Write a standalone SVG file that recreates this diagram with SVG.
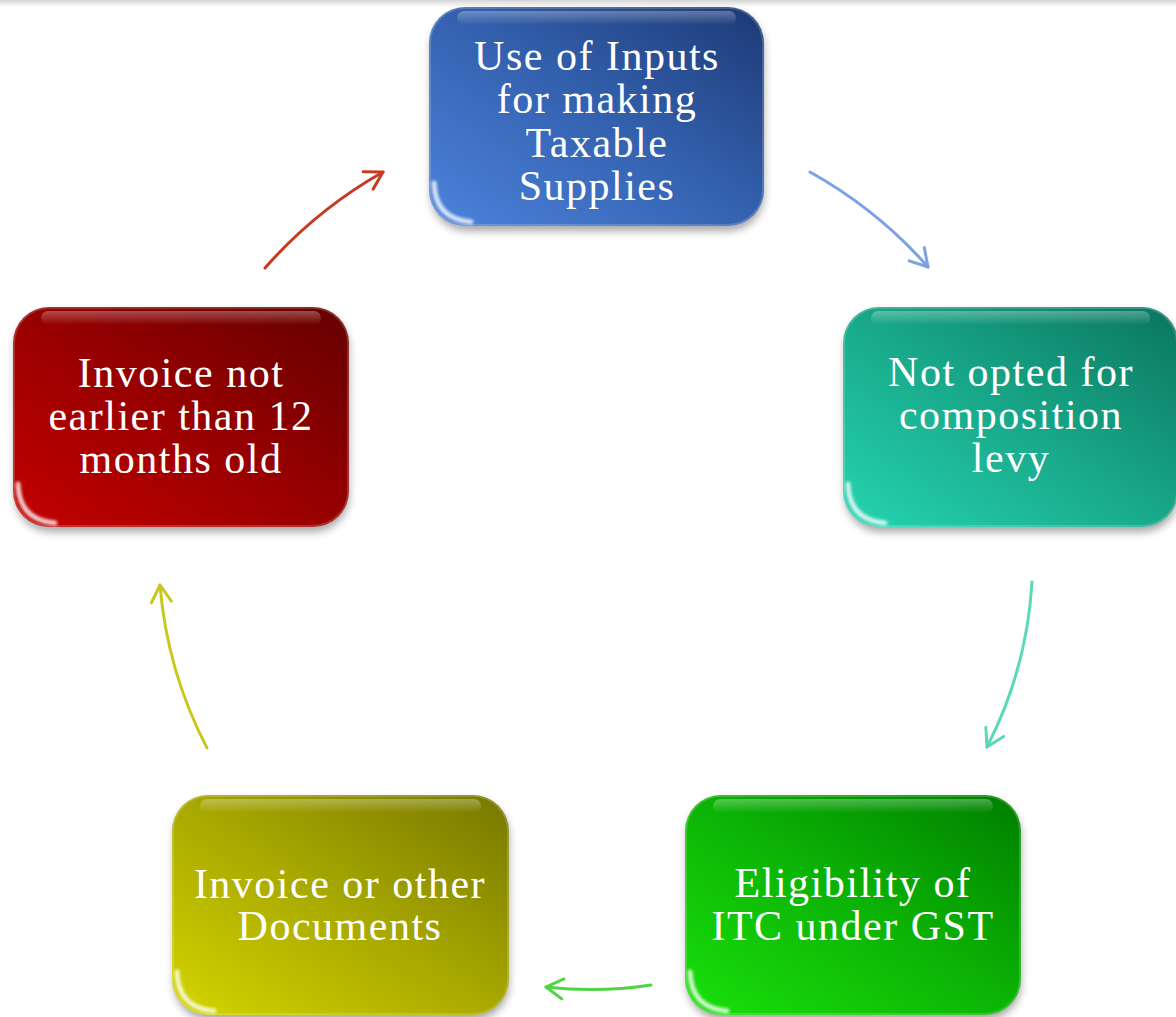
<svg xmlns="http://www.w3.org/2000/svg" width="1176" height="1017" viewBox="0 0 1176 1017">
<defs>
<linearGradient id="topbar" x1="0" y1="0" x2="0" y2="1"><stop offset="0" stop-color="#d4d4d4"/><stop offset="1" stop-color="#ffffff"/></linearGradient>
<linearGradient id="gBlue" x1="0.05" y1="0.95" x2="0.95" y2="0.05"><stop offset="0" stop-color="#4a80d8"/><stop offset="0.5" stop-color="#3462b0"/><stop offset="1" stop-color="#1f3d7a"/></linearGradient>
<linearGradient id="gTeal" x1="0.05" y1="0.95" x2="0.95" y2="0.05"><stop offset="0" stop-color="#24d0ad"/><stop offset="0.5" stop-color="#18a889"/><stop offset="1" stop-color="#0c7a63"/></linearGradient>
<linearGradient id="gRed" x1="0.05" y1="0.95" x2="0.95" y2="0.05"><stop offset="0" stop-color="#c00000"/><stop offset="0.5" stop-color="#980000"/><stop offset="1" stop-color="#6a0000"/></linearGradient>
<linearGradient id="gGreen" x1="0.05" y1="0.95" x2="0.95" y2="0.05"><stop offset="0" stop-color="#18dc0a"/><stop offset="0.5" stop-color="#0cb405"/><stop offset="1" stop-color="#008400"/></linearGradient>
<linearGradient id="gYellow" x1="0.05" y1="0.95" x2="0.95" y2="0.05"><stop offset="0" stop-color="#d0d000"/><stop offset="0.5" stop-color="#a8a800"/><stop offset="1" stop-color="#7c7c00"/></linearGradient>
<linearGradient id="gloss" x1="0" y1="0" x2="0" y2="1"><stop offset="0" stop-color="#ffffff" stop-opacity="0.3"/><stop offset="1" stop-color="#ffffff" stop-opacity="0"/></linearGradient>
<filter id="shadow" x="-10%" y="-10%" width="120%" height="125%"><feGaussianBlur stdDeviation="4"/></filter>
<filter id="soft" x="-50%" y="-50%" width="200%" height="200%"><feGaussianBlur stdDeviation="1.5"/></filter>
<marker id="mRed" viewBox="-20 -12 24 24" markerWidth="24" markerHeight="24" refX="0" refY="0" orient="auto" markerUnits="userSpaceOnUse"><path d="M-17,-10 L0,0 L-17,10" fill="none" stroke="#c63b22" stroke-width="3" stroke-linecap="round" stroke-linejoin="round"/></marker>
<marker id="mBlue" viewBox="-20 -12 24 24" markerWidth="24" markerHeight="24" refX="0" refY="0" orient="auto" markerUnits="userSpaceOnUse"><path d="M-17,-10 L0,0 L-17,10" fill="none" stroke="#7ba2e2" stroke-width="3" stroke-linecap="round" stroke-linejoin="round"/></marker>
<marker id="mTeal" viewBox="-20 -12 24 24" markerWidth="24" markerHeight="24" refX="0" refY="0" orient="auto" markerUnits="userSpaceOnUse"><path d="M-17,-10 L0,0 L-17,10" fill="none" stroke="#5cd8b8" stroke-width="3" stroke-linecap="round" stroke-linejoin="round"/></marker>
<marker id="mGreen" viewBox="-20 -12 24 24" markerWidth="24" markerHeight="24" refX="0" refY="0" orient="auto" markerUnits="userSpaceOnUse"><path d="M-17,-10 L0,0 L-17,10" fill="none" stroke="#4ed444" stroke-width="3" stroke-linecap="round" stroke-linejoin="round"/></marker>
<marker id="mYellow" viewBox="-20 -12 24 24" markerWidth="24" markerHeight="24" refX="0" refY="0" orient="auto" markerUnits="userSpaceOnUse"><path d="M-17,-10 L0,0 L-17,10" fill="none" stroke="#c8c81e" stroke-width="3" stroke-linecap="round" stroke-linejoin="round"/></marker>
</defs>
<style>
.shadow{fill:#000;opacity:0.35;filter:url(#shadow);}
.gloss{fill:url(#gloss);}
.glare{fill:none;stroke:#fff;stroke-width:5;stroke-linecap:round;opacity:0.8;filter:url(#soft);}
.rim{fill:none;stroke:#fff;stroke-opacity:0.18;stroke-width:2;}
.lbl{font-family:"Liberation Serif","Times New Roman",serif;font-size:42px;letter-spacing:1.5px;fill:#fff;text-anchor:middle;}
.arc{fill:none;stroke-width:3;stroke-linecap:round;}
</style>
<rect x="0" y="0" width="1176" height="1017" fill="#fff"/>
<rect x="0" y="0" width="1176" height="7" fill="url(#topbar)"/>

<g id="connectors">
<path class="arc" stroke="#c63b22" d="M265,268 Q316,210 383,172" marker-end="url(#mRed)"/>
<path class="arc" stroke="#7ba2e2" d="M810,172 Q878,210 928,267" marker-end="url(#mBlue)"/>
<path class="arc" stroke="#5cd8b8" d="M1032,582 Q1027,669 987,747" marker-end="url(#mTeal)"/>
<path class="arc" stroke="#4ed444" d="M651,985 Q599,993 546,987" marker-end="url(#mGreen)"/>
<path class="arc" stroke="#c8c81e" d="M207,748 Q167,671 160,585" marker-end="url(#mYellow)"/>
</g>

<g id="node-inputs" transform="translate(429,7)">
<rect class="shadow" x="2" y="5" width="333" height="219" rx="36"/>
<rect width="335" height="219" rx="36" fill="url(#gBlue)"/>
<rect class="rim" x="1" y="1" width="333" height="217" rx="35"/>
<rect class="gloss" x="28" y="4" width="279" height="14" rx="7"/>
<path class="glare" d="M5,176 Q6,212 42,215"/>
<text class="lbl" x="168" y="63">Use of Inputs</text>
<text class="lbl" x="168" y="106">for making</text>
<text class="lbl" x="168" y="150">Taxable</text>
<text class="lbl" x="168" y="193">Supplies</text>
</g>

<g id="node-composition" transform="translate(843,307)">
<rect class="shadow" x="2" y="5" width="333" height="220" rx="36"/>
<rect width="335" height="220" rx="36" fill="url(#gTeal)"/>
<rect class="rim" x="1" y="1" width="333" height="218" rx="35"/>
<rect class="gloss" x="28" y="4" width="279" height="14" rx="7"/>
<path class="glare" d="M5,177 Q6,213 42,216"/>
<text class="lbl" x="168" y="79">Not opted for</text>
<text class="lbl" x="168" y="122">composition</text>
<text class="lbl" x="168" y="165">levy</text>
</g>

<g id="node-invoice-age" transform="translate(13,307)">
<rect class="shadow" x="2" y="5" width="334" height="220" rx="36"/>
<rect width="336" height="220" rx="36" fill="url(#gRed)"/>
<rect class="rim" x="1" y="1" width="334" height="218" rx="35"/>
<rect class="gloss" x="28" y="4" width="280" height="14" rx="7"/>
<path class="glare" d="M5,177 Q6,213 42,216"/>
<text class="lbl" x="168" y="80">Invoice not</text>
<text class="lbl" x="168" y="123">earlier than 12</text>
<text class="lbl" x="168" y="166">months old</text>
</g>

<g id="node-eligibility" transform="translate(685,795)">
<rect class="shadow" x="2" y="5" width="334" height="220" rx="36"/>
<rect width="336" height="220" rx="36" fill="url(#gGreen)"/>
<rect class="rim" x="1" y="1" width="334" height="218" rx="35"/>
<rect class="gloss" x="28" y="4" width="280" height="14" rx="7"/>
<path class="glare" d="M5,177 Q6,213 42,216"/>
<text class="lbl" x="168" y="102">Eligibility of</text>
<text class="lbl" x="168" y="145">ITC under GST</text>
</g>

<g id="node-documents" transform="translate(172,795)">
<rect class="shadow" x="2" y="5" width="335" height="220" rx="36"/>
<rect width="337" height="220" rx="36" fill="url(#gYellow)"/>
<rect class="rim" x="1" y="1" width="335" height="218" rx="35"/>
<rect class="gloss" x="28" y="4" width="281" height="14" rx="7"/>
<path class="glare" d="M5,177 Q6,213 42,216"/>
<text class="lbl" x="168" y="103">Invoice or other</text>
<text class="lbl" x="168" y="145">Documents</text>
</g>
</svg>
